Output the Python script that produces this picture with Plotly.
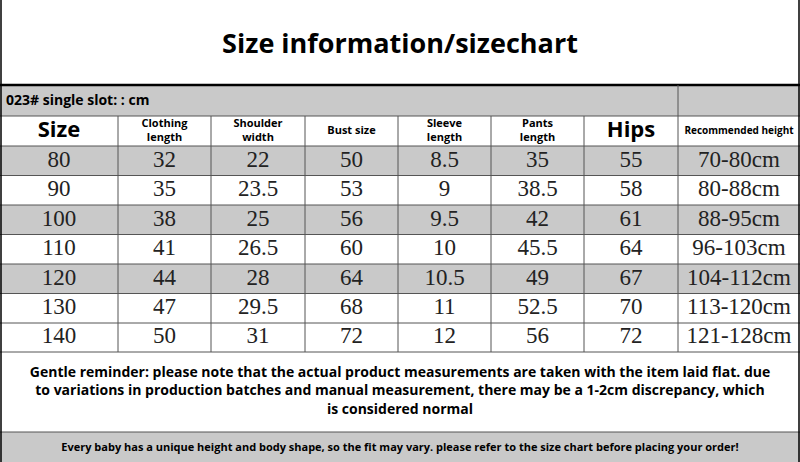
import plotly.graph_objects as go

sizes = ["80", "90", "100", "110", "120", "130", "140"]
clothing_length = ["32", "35", "38", "41", "44", "47", "50"]
shoulder_width = ["22", "23.5", "25", "26.5", "28", "29.5", "31"]
bust_size = ["50", "53", "56", "60", "64", "68", "72"]
sleeve_length = ["8.5", "9", "9.5", "10", "10.5", "11", "12"]
pants_length = ["35", "38.5", "42", "45.5", "49", "52.5", "56"]
hips = ["55", "58", "61", "64", "67", "70", "72"]
recommended_height = ["70-80cm", "80-88cm", "88-95cm", "96-103cm", "104-112cm", "113-120cm", "121-128cm"]

headers = ["Size", "Clothing<br>length", "Shoulder<br>width", "Bust size", "Sleeve<br>length",
           "Pants<br>length", "Hips", "Recommended height"]
title = "Size information/sizechart"
slot_label = "023# single slot: : cm"
reminder = ("Gentle reminder: please note that the actual product measurements are taken with the item laid flat. due<br>"
            "to variations in production batches and manual measurement, there may be a 1-2cm discrepancy, which<br>"
            "is considered normal")
footer = "Every baby has a unique height and body shape, so the fit may vary. please refer to the size chart before placing your order!"

columns = [sizes, clothing_length, shoulder_width, bust_size, sleeve_length, pants_length, hips, recommended_height]
col_x = [0, 118, 211, 305, 398, 491, 584, 678, 800]
row_y = [146, 175.5, 205, 234.5, 264, 293.5, 323, 352]
row_gray = [True, False, True, False, True, False, False]
GRAY = "#c9c9c9"
LINE = "#555555"

shapes = []
def rect(x0, y0, x1, y1, fill):
    shapes.append(dict(type="rect", x0=x0, y0=y0, x1=x1, y1=y1, fillcolor=fill, line_width=0, layer="below"))
def line(x0, y0, x1, y1, w=1, c=LINE):
    shapes.append(dict(type="line", x0=x0, y0=y0, x1=x1, y1=y1, line=dict(color=c, width=w)))

rect(0, 85, 800, 116, GRAY)
for i, g in enumerate(row_gray):
    if g:
        rect(0, row_y[i], 800, row_y[i + 1], GRAY)
rect(0, 432, 800, 462, GRAY)

line(0, 85, 800, 85, 2.5, "black")
for y in [116, 146] + row_y[1:] + [432]:
    line(0, y, 800, y)
for x in col_x[1:-1]:
    line(x, 116, x, 352)
line(678, 85, 678, 116)
line(1, 0, 1, 462, 1.5, "black")
line(799, 0, 799, 462, 1.5, "black")

fig = go.Figure()
cx = [(col_x[i] + col_x[i + 1]) / 2 for i in range(8)]
hdr_size = [22, 11, 11, 11, 11, 11, 22, 10]
for i, h in enumerate(headers):
    fig.add_trace(go.Scatter(x=[cx[i]], y=[131], mode="text", text=[h],
                             textfont=dict(family="Open Sans", size=hdr_size[i], color="black", weight="bold")))
for i, col in enumerate(columns):
    ys = [(row_y[j] + row_y[j + 1]) / 2 for j in range(7)]
    fig.add_trace(go.Scatter(x=[cx[i]] * 7, y=ys, mode="text", text=col,
                             textfont=dict(family="Liberation Serif", size=23, color="#222")))
fig.add_trace(go.Scatter(x=[400], y=[46], mode="text", text=[title],
                         textfont=dict(family="Open Sans", size=27, color="black", weight="bold")))
fig.add_trace(go.Scatter(x=[6], y=[101], mode="text", text=[slot_label], textposition="middle right",
                         textfont=dict(family="Open Sans", size=14, color="black", weight="bold")))
fig.add_trace(go.Scatter(x=[400], y=[392], mode="text", text=[reminder],
                         textfont=dict(family="Open Sans", size=14, color="black", weight="bold")))
fig.add_trace(go.Scatter(x=[400], y=[448], mode="text", text=[footer],
                         textfont=dict(family="Open Sans", size=11, color="black", weight="bold")))

fig.update_layout(width=800, height=462, margin=dict(l=0, r=0, t=0, b=0), showlegend=False,
                  plot_bgcolor="white", paper_bgcolor="white", shapes=shapes)
fig.update_xaxes(range=[0, 800], visible=False, fixedrange=True)
fig.update_yaxes(range=[462, 0], visible=False, fixedrange=True)
fig.write_html("out.html", config={"displayModeBar": False},
               post_script="document.body.style.margin='0';document.body.style.overflow='hidden';")
